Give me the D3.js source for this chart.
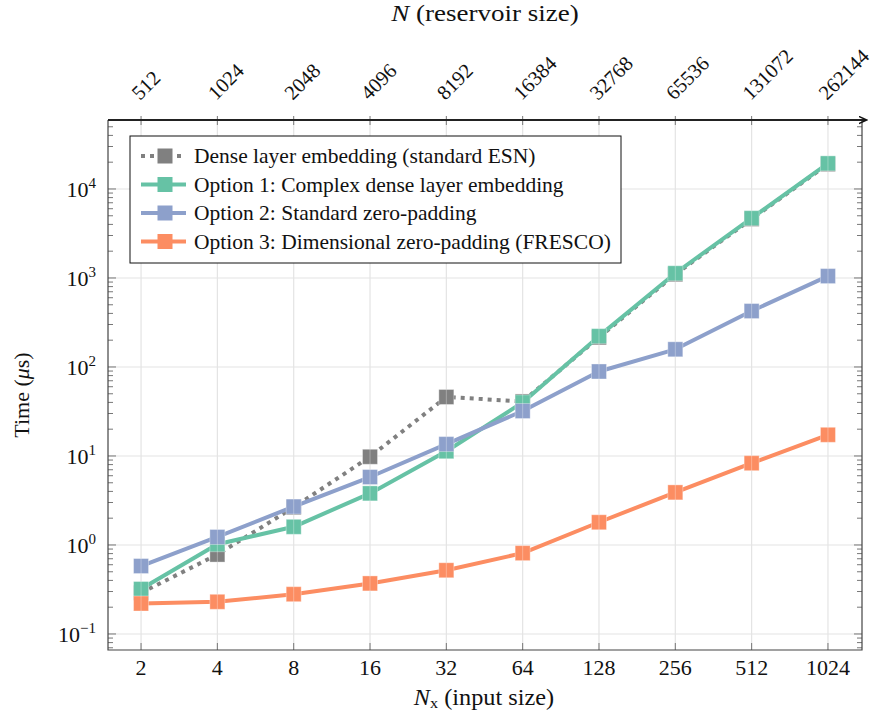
<!DOCTYPE html>
<html>
<head>
<meta charset="utf-8">
<script src="https://cdn.jsdelivr.net/npm/d3@7"></script>
<style>
  body { margin: 0; background: #fff; }
  svg text { font-family: "Liberation Serif", "DejaVu Serif", Times, serif; fill: #111; }
</style>
</head>
<body>
<div id="chart"></div>
<script>

// input sizes (bottom axis) and reservoir sizes (top axis)
const inputSizes = [2, 4, 8, 16, 32, 64, 128, 256, 512, 1024]
const reservoirLabels = ["512", "1024", "2048", "4096", "8192", "16384", "32768", "65536", "131072", "262144"]

// times in microseconds
const denseESN   = [0.29, 0.78, 2.65, 9.8, 46, 41, 215, 1100, 4600, 19000]
const option1    = [0.32, 1.02, 1.6, 3.8, 11.3, 40, 222, 1130, 4700, 19400]
const option2    = [0.58, 1.23, 2.7, 5.8, 13.6, 32, 89, 158, 425, 1050]
const option3    = [0.22, 0.23, 0.28, 0.37, 0.52, 0.81, 1.8, 3.9, 8.3, 17.3]

const seriesNames = [
  "Dense layer embedding (standard ESN)",
  "Option 1: Complex dense layer embedding",
  "Option 2: Standard zero-padding",
  "Option 3: Dimensional zero-padding (FRESCO)"
]
const seriesColors = ["#808080", "#66c2a5", "#8da0cb", "#fc8d62"]
const seriesData = [denseESN, option1, option2, option3]

const yMajor = [-1, 0, 1, 2, 3, 4]

function drawChart () {

  const width = 875, height = 719
  const dims = { left: 108, right: 862, top: 120, bottom: 650 }
  const serif = "Liberation Serif"

  const svg = d3.select("#chart")
    .append("svg")
    .attr("width", width)
    .attr("height", height)
    .attr("font-family", serif)

  const x = d3.scaleLog().base(2)
    .domain([Math.pow(2, 0.567), Math.pow(2, 10.446)])
    .range([dims.left, dims.right])

  const y = d3.scaleLog()
    .domain([Math.pow(10, -1.18), Math.pow(10, 4.775)])
    .range([dims.bottom, dims.top])

  // grid
  const grid = svg.append("g").attr("stroke", "#e4e4e4").attr("stroke-width", 1.2)
  grid.selectAll(".gx").data(inputSizes).join("line")
    .attr("x1", d => x(d)).attr("x2", d => x(d))
    .attr("y1", dims.top).attr("y2", dims.bottom)
  grid.selectAll(".gy").data(yMajor).join("line")
    .attr("x1", dims.left).attr("x2", dims.right)
    .attr("y1", d => y(Math.pow(10, d))).attr("y2", d => y(Math.pow(10, d)))

  // y ticks (major + minor), inside on both sides
  const minor = []
  for (let e = -2; e <= 4; e++) {
    for (let m = 2; m <= 9; m++) {
      const v = m * Math.pow(10, e)
      if (v > y.domain()[0] && v < y.domain()[1]) minor.push(v)
    }
  }
  const ticks = svg.append("g").attr("stroke", "#777").attr("stroke-width", 1)
  ;[dims.left, dims.right].forEach((px, i) => {
    const dir = i === 0 ? 1 : -1
    ticks.selectAll(null).data(minor).join("line")
      .attr("x1", px).attr("x2", px + dir * 5)
      .attr("y1", d => y(d)).attr("y2", d => y(d))
    ticks.selectAll(null).data(yMajor).join("line")
      .attr("x1", px).attr("x2", px + dir * 8)
      .attr("y1", d => y(Math.pow(10, d))).attr("y2", d => y(Math.pow(10, d)))
  })
  ticks.selectAll(null).data(inputSizes).join("line")
    .attr("x1", d => x(d)).attr("x2", d => x(d))
    .attr("y1", dims.bottom).attr("y2", dims.bottom - 7)
  ticks.selectAll(null).data(inputSizes).join("line")
    .attr("x1", d => x(d)).attr("x2", d => x(d))
    .attr("y1", dims.top - 4).attr("y2", dims.top + 5)

  // frame
  svg.append("path")
    .attr("d", `M${dims.left},${dims.top}V${dims.bottom}H${dims.right}V${dims.top}`)
    .attr("fill", "none").attr("stroke", "#444").attr("stroke-width", 1.2)

  // top axis with arrow
  svg.append("defs").append("marker")
    .attr("id", "arrow").attr("viewBox", "0 0 10 10")
    .attr("refX", 8).attr("refY", 5)
    .attr("markerWidth", 5).attr("markerHeight", 5)
    .attr("orient", "auto")
    .append("path").attr("d", "M0,1 L9,5 L0,9").attr("fill", "none")
    .attr("stroke", "#111").attr("stroke-width", 1.6)
  svg.append("line")
    .attr("x1", dims.left).attr("x2", dims.right + 4)
    .attr("y1", dims.top).attr("y2", dims.top)
    .attr("stroke", "#222").attr("stroke-width", 1.8)
    .attr("marker-end", "url(#arrow)")

  // bottom tick labels
  svg.append("g").selectAll("text").data(inputSizes).join("text")
    .attr("x", d => x(d)).attr("y", 675)
    .attr("text-anchor", "middle")
    .attr("font-family", serif)
    .attr("font-size", 22)
    .text(d => d)

  // top tick labels, rotated
  svg.append("g").selectAll("text").data(inputSizes).join("text")
    .attr("transform", d => `translate(${x(d) - 1},${101}) rotate(-45)`)
    .attr("font-family", serif)
    .attr("font-size", 20.5)
    .text((d, i) => reservoirLabels[i])

  // y tick labels
  const yl = svg.append("g").selectAll("text").data(yMajor).join("text")
    .attr("x", 96).attr("y", d => y(Math.pow(10, d)) + 8)
    .attr("text-anchor", "end")
    .attr("font-family", serif)
    .attr("font-size", 22)
  yl.append("tspan").text("10")
  yl.append("tspan").attr("dy", -9).attr("font-size", 15)
    .text(d => d < 0 ? "\u2212" + (-d) : d)

  // axis titles
  const top = svg.append("text")
    .attr("transform", "translate(485,21) scale(1.2,1)")
    .attr("text-anchor", "middle").attr("font-size", 22.5).attr("font-family", serif)
  top.append("tspan").attr("font-style", "italic").text("N")
  top.append("tspan").text(" (reservoir size)")

  const bot = svg.append("text")
    .attr("transform", "translate(484,705) scale(1.08,1)")
    .attr("text-anchor", "middle").attr("font-size", 22.5).attr("font-family", serif)
  bot.append("tspan").attr("font-style", "italic").text("N")
  bot.append("tspan").attr("font-size", 15).attr("dy", 3).text("x")
  bot.append("tspan").attr("dy", -3).text(" (input size)")

  const yt = svg.append("text")
    .attr("transform", `translate(29,395) rotate(-90)`)
    .attr("text-anchor", "middle").attr("font-size", 22).attr("font-family", serif)
  yt.append("tspan").text("Time (")
  yt.append("tspan").attr("font-style", "italic").text("\u03bc")
  yt.append("tspan").text("s)")

  // series
  const line = d3.line().x((d, i) => x(inputSizes[i])).y(d => y(d))
  const ms = 15
  seriesData.forEach((vals, k) => {
    const g = svg.append("g")
    g.append("path")
      .attr("d", line(vals))
      .attr("fill", "none")
      .attr("stroke", seriesColors[k])
      .attr("stroke-width", 4)
      .attr("stroke-linejoin", "round")
      .attr("stroke-dasharray", k === 0 ? "4,5" : null)
    g.selectAll("rect").data(vals).join("rect")
      .attr("x", (d, i) => x(inputSizes[i]) - ms / 2)
      .attr("y", d => y(d) - ms / 2)
      .attr("width", ms).attr("height", ms)
      .attr("fill", seriesColors[k])
      .attr("stroke", "#fff").attr("stroke-opacity", 0.35).attr("stroke-width", 1)
    g.selectAll("line").data(vals).join("line")
      .attr("x1", (d, i) => x(inputSizes[i])).attr("x2", (d, i) => x(inputSizes[i]))
      .attr("y1", d => y(d) - ms / 2).attr("y2", d => y(d) + ms / 2)
      .attr("stroke", "#fff").attr("stroke-opacity", 0.3).attr("stroke-width", 1)
  })

  // legend
  const leg = svg.append("g").attr("transform", "translate(130,136)")
  leg.append("rect").attr("width", 491).attr("height", 127)
    .attr("fill", "#fff").attr("stroke", "#111").attr("stroke-width", 1)
  seriesNames.forEach((name, k) => {
    const ly = 20 + k * 28.5
    leg.append("line")
      .attr("x1", 11).attr("x2", 56).attr("y1", ly).attr("y2", ly)
      .attr("stroke", seriesColors[k]).attr("stroke-width", 4)
      .attr("stroke-dasharray", k === 0 ? "4,5" : null)
    leg.append("rect")
      .attr("x", 35 - ms / 2).attr("y", ly - ms / 2)
      .attr("width", ms).attr("height", ms)
      .attr("fill", seriesColors[k])
    leg.append("text").attr("x", 64).attr("y", ly + 7)
      .attr("font-family", serif)
      .attr("font-size", 21.5)
      .text(name)
  })
}

drawChart()
</script>
</body>
</html>
